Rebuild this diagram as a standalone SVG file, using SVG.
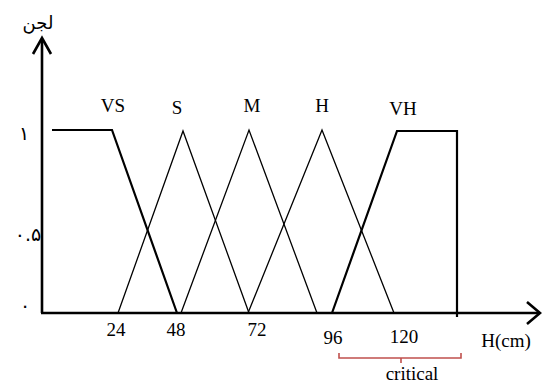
<svg xmlns="http://www.w3.org/2000/svg" width="542" height="383" viewBox="0 0 542 383">
<style>
.t{font-family:"Liberation Serif","Times New Roman",serif;font-size:19px;fill:#000;text-anchor:middle}
.ar{font-family:"DejaVu Sans","Noto Sans",sans-serif;fill:#000;text-anchor:middle}
.ax{fill:none;stroke:#000;stroke-width:2.6}
.thick{fill:none;stroke:#000;stroke-width:2.2;stroke-linejoin:miter}
.thin{fill:none;stroke:#000;stroke-width:1.3}
.red{fill:none;stroke:#c0504d;stroke-width:1.6}
</style>
<rect width="542" height="383" fill="#fff"/>
<g id="axes">
<line class="ax" x1="42" y1="313" x2="42" y2="40"/>
<polyline class="ax" points="33,54 42,38 51,54"/>
<line class="ax" x1="41" y1="313" x2="539" y2="313"/>
<polyline class="ax" points="527,302 540,313 527,324"/>
</g>
<g id="membership">
<polyline id="VS" class="thick" points="52,130 112,130 177,313"/>
<polyline id="S" class="thin" points="118,313 183,131 249,313"/>
<polyline id="M" class="thin" points="181,313 249,130 317,313"/>
<polyline id="H" class="thin" points="248,313 322,130 394,313"/>
<polyline id="VH" class="thick" points="332,313 397,131 457,131 457,317"/>
</g>
<g id="labels">
<text class="t" x="113" y="112">VS</text>
<text class="t" x="177" y="114">S</text>
<text class="t" x="252" y="112">M</text>
<text class="t" x="322" y="112">H</text>
<text class="t" x="403" y="115">VH</text>
<text class="t" x="116" y="336">24</text>
<text class="t" x="176" y="336">48</text>
<text class="t" x="257" y="336">72</text>
<text class="t" x="333" y="344">96</text>
<text class="t" x="404" y="343">120</text>
<text class="t" x="506" y="347">H(cm)</text>
<text class="ar" x="38" y="29" font-size="18">لجن</text>
<text class="ar" x="24" y="140" font-size="19">١</text>
<text class="ar" x="28" y="241" font-size="19">٠.۵</text>
<text class="ar" x="25" y="312" font-size="19">٠</text>
</g>
<g id="critical">
<path class="red" d="M339,353 V358 H461 V353 M401,358 V363"/>
<text class="t" x="412" y="380">critical</text>
</g>
</svg>
